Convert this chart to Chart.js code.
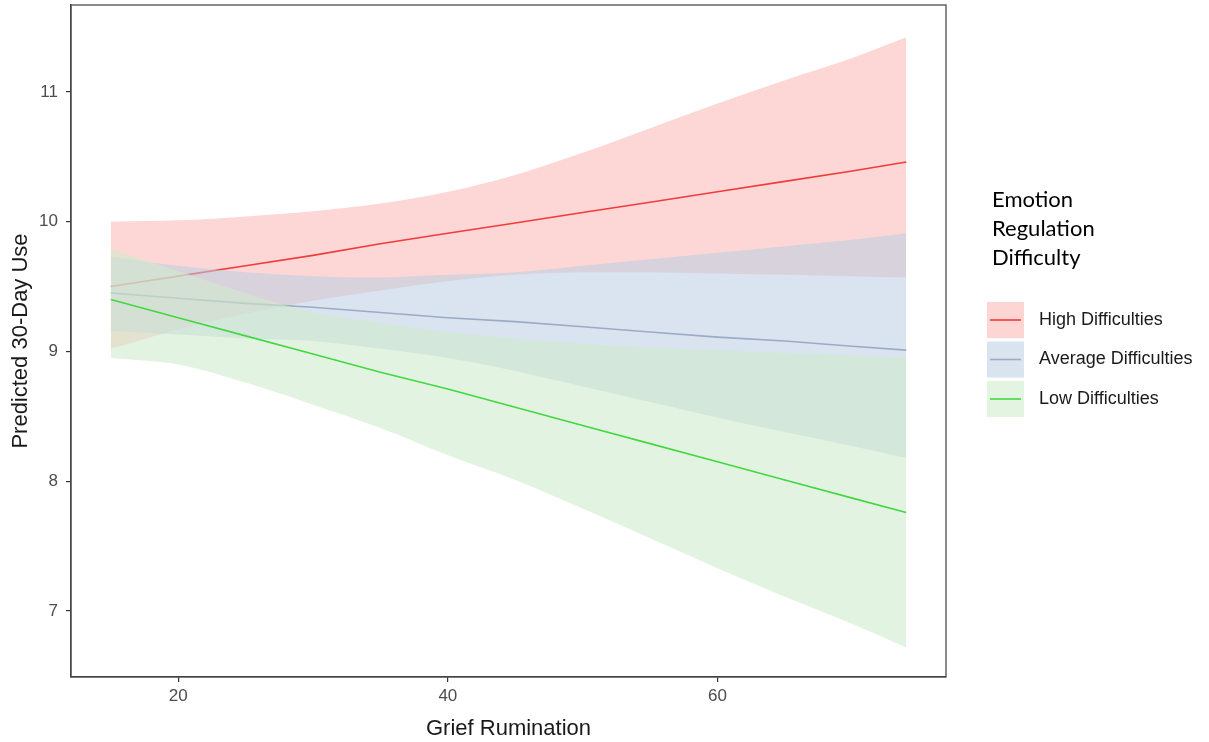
<!DOCTYPE html>
<html>
<head>
<meta charset="utf-8">
<script src="https://cdn.jsdelivr.net/npm/chart.js@4.4.1/dist/chart.umd.min.js"></script>
<style>
  html, body { margin: 0; padding: 0; background: #fff; }
  #wrap { width: 1209px; height: 742px; }
</style>
</head>
<body>
<div id="wrap"><canvas id="chart" width="1209" height="742"></canvas></div>
<script>
// values
const grief = [15, 20, 25, 30, 35, 40, 45, 50, 55, 60, 65, 70, 74];

const highFit   = [9.50, 9.58, 9.66, 9.74, 9.83, 9.91, 9.99, 10.07, 10.15, 10.23, 10.31, 10.39, 10.46];
const highUpper = [10.00, 10.01, 10.04, 10.08, 10.14, 10.23, 10.36, 10.53, 10.72, 10.91, 11.09, 11.26, 11.42];
const highLower = [9.02, 9.17, 9.29, 9.39, 9.47, 9.54, 9.59, 9.61, 9.61, 9.60, 9.59, 9.58, 9.57];

const avgFit   = [9.45, 9.41, 9.37, 9.34, 9.30, 9.26, 9.23, 9.19, 9.15, 9.11, 9.08, 9.04, 9.01];
const avgUpper = [9.73, 9.66, 9.61, 9.58, 9.57, 9.59, 9.61, 9.66, 9.71, 9.76, 9.81, 9.86, 9.91];
const avgLower = [9.16, 9.13, 9.10, 9.08, 9.02, 8.95, 8.85, 8.73, 8.61, 8.49, 8.38, 8.27, 8.18];

const lowFit   = [9.40, 9.26, 9.12, 8.98, 8.84, 8.71, 8.57, 8.43, 8.29, 8.15, 8.01, 7.87, 7.76];
const lowUpper = [9.79, 9.62, 9.45, 9.30, 9.22, 9.15, 9.10, 9.06, 9.03, 9.01, 8.99, 8.97, 8.95];
const lowLower = [8.95, 8.90, 8.76, 8.59, 8.41, 8.20, 8.01, 7.79, 7.56, 7.33, 7.11, 6.90, 6.72];

const xTicks = [20, 40, 60];
const yTicks = [7, 8, 9, 10, 11];

const legendTitle = ["Emotion", "Regulation", "Difficulty"];
const groupNames = ["High Difficulties", "Average Difficulties", "Low Difficulties"];
const lineColors = ["#f03c3c", "#9eaac4", "#42d842"];
const bandColors = ["rgba(251, 182, 179, 0.55)", "rgba(185, 206, 228, 0.55)", "rgba(206, 235, 203, 0.58)"];
const legendKeyColors = ["#fdd6d4", "#d9e4f0", "#e3f4e1"];

const fits = [highFit, avgFit, lowFit];
const uppers = [highUpper, avgUpper, lowUpper];
const lowers = [highLower, avgLower, lowLower];

const pts = (ys) => grief.map((x, i) => ({ x: x, y: ys[i] }));
const FONT = "'Liberation Sans', Arial, sans-serif";

// draw sequence: red ribbon, red line, blue ribbon, blue line, green ribbon, green line
// (chart.js paints higher "order" first)
const datasets = [];
groupNames.forEach((name, g) => {
  const base = 6 - g * 2;
  datasets.push({
    label: name + " upper",
    data: pts(uppers[g]),
    borderWidth: 0,
    borderColor: "rgba(0,0,0,0)",
    pointRadius: 0,
    cubicInterpolationMode: "monotone",
    backgroundColor: bandColors[g],
    fill: "+1",
    order: base
  });
  datasets.push({
    label: name + " lower",
    data: pts(lowers[g]),
    borderWidth: 0,
    borderColor: "rgba(0,0,0,0)",
    pointRadius: 0,
    cubicInterpolationMode: "monotone",
    fill: false,
    order: base
  });
  datasets.push({
    label: name,
    data: pts(fits[g]),
    borderColor: lineColors[g],
    borderWidth: 1.6,
    pointRadius: 0,
    fill: false,
    order: base - 1
  });
});

const panelAndLegend = {
  id: "panelAndLegend",
  afterDraw(chart) {
    const { ctx, chartArea: a } = chart;
    ctx.save();
    ctx.strokeStyle = "#4d4d4d";
    ctx.lineWidth = 1.3;
    ctx.strokeRect(a.left, a.top, a.right - a.left, a.bottom - a.top);

    ctx.fillStyle = "#000";
    ctx.font = "22px Lato";
    ctx.textBaseline = "middle";
    ctx.textAlign = "left";
    legendTitle.forEach((t, i) => ctx.fillText(t, 992, 200 + i * 29));

    groupNames.forEach((name, i) => {
      const y = 302 + i * 39.5;
      ctx.fillStyle = legendKeyColors[i];
      ctx.fillRect(987, y, 37, 36);
      ctx.strokeStyle = lineColors[i];
      ctx.lineWidth = 1.6;
      ctx.beginPath();
      ctx.moveTo(990, y + 18);
      ctx.lineTo(1021, y + 18);
      ctx.stroke();
      ctx.fillStyle = "#1a1a1a";
      ctx.font = "18px " + FONT;
      ctx.fillText(name, 1039, y + 18);
    });
    ctx.restore();
  }
};

new Chart(document.getElementById("chart"), {
  type: "line",
  data: { datasets: datasets },
  options: {
    responsive: false,
    animation: false,
    devicePixelRatio: 1,
    layout: { padding: { top: 5, right: 263, left: 0, bottom: 0 } },
    plugins: {
      legend: { display: false },
      tooltip: { enabled: false },
      filler: { drawTime: "beforeDatasetDraw" }
    },
    scales: {
      x: {
        type: "linear",
        bounds: "data",
        min: 12.05,
        max: 76.95,
        afterBuildTicks: (s) => { s.ticks = xTicks.map(v => ({ value: v })); },
        afterFit: (s) => { s.height = 65; s.paddingLeft = 0; s.paddingRight = 0; },
        grid: { display: true, drawOnChartArea: false, drawTicks: true, tickLength: 5, color: "#333", lineWidth: 1.2 },
        border: { display: true, color: "#333", width: 1.3 },
        ticks: { color: "#4d4d4d", font: { size: 17, family: FONT }, padding: 4, callback: v => String(v) },
        title: { display: true, text: "Grief Rumination", color: "#1a1a1a", font: { size: 22, family: FONT }, padding: { top: 7, bottom: 0 } }
      },
      y: {
        type: "linear",
        bounds: "data",
        min: 6.492,
        max: 11.669,
        afterBuildTicks: (s) => { s.ticks = yTicks.map(v => ({ value: v })); },
        afterFit: (s) => { s.width = 71; s.paddingTop = 0; s.paddingBottom = 0; },
        grid: { display: true, drawOnChartArea: false, drawTicks: true, tickLength: 5, color: "#333", lineWidth: 1.2 },
        border: { display: true, color: "#333", width: 1.3 },
        ticks: { color: "#4d4d4d", font: { size: 17, family: FONT }, padding: 8, callback: v => String(v) },
        title: { display: true, text: "Predicted 30-Day Use", color: "#1a1a1a", font: { size: 22, family: FONT }, padding: { top: 8, bottom: 0 } }
      }
    }
  },
  plugins: [panelAndLegend]
});
</script>
</body>
</html>
